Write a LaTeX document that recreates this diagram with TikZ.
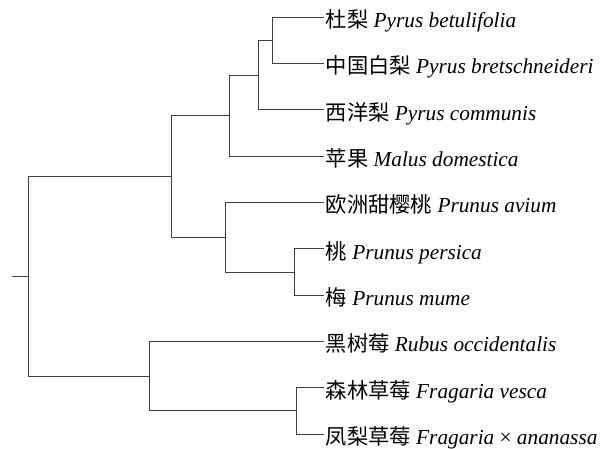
\documentclass[tikz,border=0pt]{standalone}
\usepackage{fontspec}
\setmainfont{Liberation Serif}
\newfontfamily\cjk{Noto Sans CJK SC}
\usetikzlibrary{positioning}

\begin{document}
\begin{tikzpicture}[
      x=1pt, y=-1pt,
      tip/.style={anchor=west, inner xsep=1.5pt, inner ysep=0pt,
        text height=20.8pt, text depth=0pt,
        font=\fontsize{21.3}{25}\selectfont},
      branch/.style={draw=black!75, line width=0.9pt}
    ]
    \useasboundingbox (0,0) rectangle (610,449);

    % tips
    \node[tip] (betu) at (324,17.3)  {{\cjk 杜梨} \textit{Pyrus betulifolia}};
    \node[tip] (bret) at (324,63.6)  {{\cjk 中国白梨} \textit{Pyrus bretschneideri}};
    \node[tip] (comm) at (324,109.9) {{\cjk 西洋梨} \textit{Pyrus communis}};
    \node[tip] (malus) at (324,156.2) {{\cjk 苹果} \textit{Malus domestica}};
    \node[tip] (avium) at (324,202.5) {{\cjk 欧洲甜樱桃} \textit{Prunus avium}};
    \node[tip] (pers) at (324,248.8) {{\cjk 桃} \textit{Prunus persica}};
    \node[tip] (mume) at (324,295.1) {{\cjk 梅} \textit{Prunus mume}};
    \node[tip] (rubus) at (324,341.4) {{\cjk 黑树莓} \textit{Rubus occidentalis}};
    \node[tip] (vesca) at (324,387.7) {{\cjk 森林草莓} \textit{Fragaria vesca}};
    \node[tip] (anan) at (324,434.0) {{\cjk 凤梨草莓} \textit{Fragaria} × \textit{ananassa}};

    % inner nodes
    \coordinate (pyrpair) at (272,40.5);
    \coordinate (pyrus)   at (258,75.2);
    \coordinate (malinae) at (229.7,115.7);
    \coordinate (prpair)  at (294.7,272);
    \coordinate (prunus)  at (225.3,237.2);
    \coordinate (amyg)    at (171.3,176.5);
    \coordinate (fragaria) at (296.7,410.8);
    \coordinate (rosoid)  at (149.7,376.1);
    \coordinate (root)    at (28,276.3);
    \coordinate (stub)    at (12.3,276.3);

    \draw[branch] (pyrpair) |- (betu.west);
    \draw[branch] (pyrpair) |- (bret.west);
    \draw[branch] (pyrus) |- (pyrpair);
    \draw[branch] (pyrus) |- (comm.west);
    \draw[branch] (malinae) |- (pyrus);
    \draw[branch] (malinae) |- (malus.west);
    \draw[branch] (prpair) |- (pers.west);
    \draw[branch] (prpair) |- (mume.west);
    \draw[branch] (prunus) |- (avium.west);
    \draw[branch] (prunus) |- (prpair);
    \draw[branch] (amyg) |- (malinae);
    \draw[branch] (amyg) |- (prunus);
    \draw[branch] (fragaria) |- (vesca.west);
    \draw[branch] (fragaria) |- (anan.west);
    \draw[branch] (rosoid) |- (rubus.west);
    \draw[branch] (rosoid) |- (fragaria);
    \draw[branch] (root) |- (amyg);
    \draw[branch] (root) |- (rosoid);
    \draw[branch] (stub) -- (root);
  \end{tikzpicture}
\end{document}
